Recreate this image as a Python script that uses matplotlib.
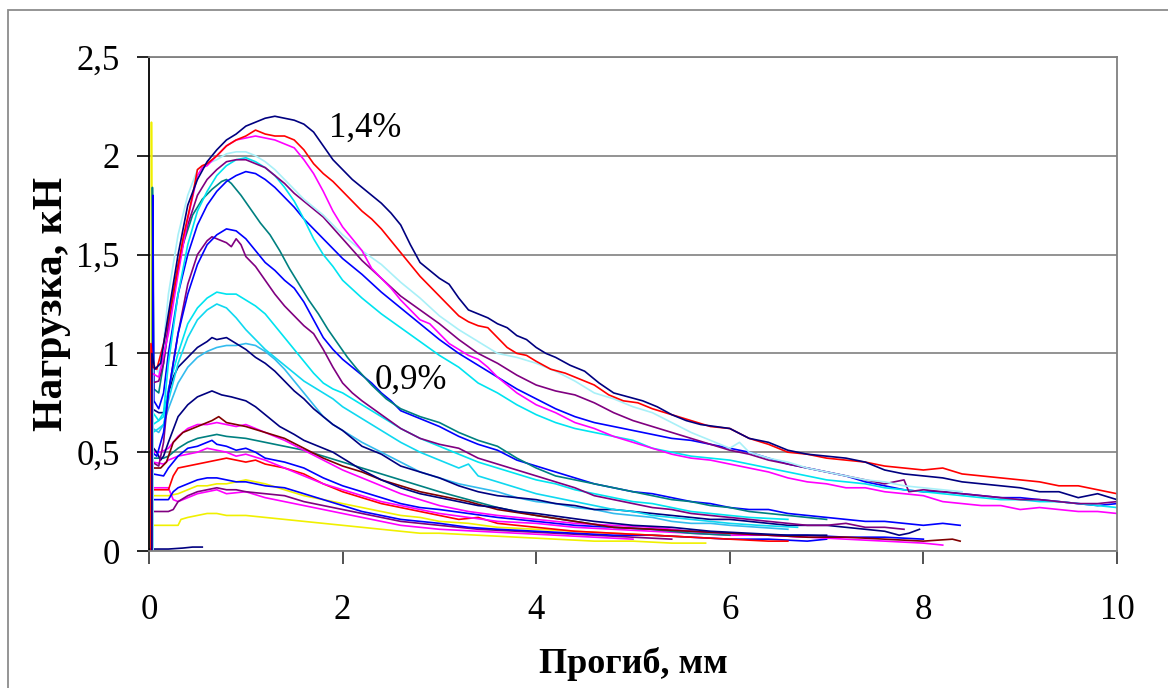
import numpy as np
import matplotlib
matplotlib.use("Agg")
import matplotlib.pyplot as plt
from matplotlib.patches import Rectangle

# load vs deflection curves, (deflection mm, load kN)
navy_14 = [(0.03, 0.0), (0.03, 1.0), (0.06, 0.92), (0.12, 0.95), (0.2, 1.2), (0.3, 1.5), (0.4, 1.75), (0.5, 1.88),
           (0.6, 1.97), (0.7, 2.03), (0.8, 2.08), (0.9, 2.11), (1.0, 2.15), (1.1, 2.17), (1.2, 2.19), (1.3, 2.20),
           (1.4, 2.19), (1.5, 2.18), (1.6, 2.16), (1.7, 2.12), (1.8, 2.05), (1.9, 1.98), (2.0, 1.93), (2.1, 1.88),
           (2.2, 1.84), (2.3, 1.80), (2.4, 1.76), (2.5, 1.71), (2.6, 1.65), (2.7, 1.55), (2.8, 1.46), (2.9, 1.42),
           (3.0, 1.38), (3.1, 1.35), (3.2, 1.28), (3.3, 1.22), (3.4, 1.20), (3.5, 1.18), (3.6, 1.15), (3.7, 1.13),
           (3.8, 1.09), (3.9, 1.07), (4.0, 1.03), (4.1, 1.00), (4.2, 0.98), (4.35, 0.94), (4.5, 0.91), (4.65, 0.85),
           (4.8, 0.80), (4.95, 0.78), (5.1, 0.76), (5.25, 0.73), (5.4, 0.69), (5.55, 0.66), (5.7, 0.64), (5.85, 0.63),
           (6.0, 0.62), (6.2, 0.57), (6.4, 0.55), (6.6, 0.51), (6.8, 0.49), (7.0, 0.48), (7.2, 0.47), (7.4, 0.45),
           (7.6, 0.41), (7.8, 0.39), (8.0, 0.38), (8.2, 0.37), (8.4, 0.35), (8.6, 0.34), (8.8, 0.33), (9.0, 0.32),
           (9.2, 0.30), (9.4, 0.30), (9.6, 0.27), (9.8, 0.29), (10.0, 0.26)]
red_top = [(0.02, 0.0), (0.02, 1.05), (0.04, 0.93), (0.08, 0.92), (0.15, 1.05), (0.25, 1.3), (0.35, 1.58),
           (0.45, 1.8), (0.5, 1.93), (0.55, 1.95), (0.6, 1.96), (0.7, 2.0), (0.8, 2.05), (0.9, 2.08), (1.0, 2.10),
           (1.1, 2.13), (1.2, 2.11), (1.3, 2.10), (1.4, 2.10), (1.5, 2.08), (1.6, 2.03), (1.7, 1.96), (1.8, 1.91),
           (1.9, 1.87), (2.0, 1.82), (2.1, 1.77), (2.2, 1.72), (2.3, 1.68), (2.4, 1.63), (2.5, 1.57), (2.6, 1.51),
           (2.7, 1.45), (2.8, 1.39), (2.9, 1.34), (3.0, 1.29), (3.1, 1.24), (3.2, 1.19), (3.3, 1.16), (3.4, 1.14),
           (3.5, 1.13), (3.6, 1.08), (3.7, 1.03), (3.8, 1.00), (3.9, 0.99), (4.0, 0.96), (4.15, 0.92), (4.3, 0.90),
           (4.45, 0.87), (4.6, 0.84), (4.75, 0.79), (4.9, 0.76), (5.05, 0.75), (5.2, 0.72), (5.4, 0.69),
           (5.6, 0.66), (5.8, 0.63), (6.0, 0.62), (6.2, 0.57), (6.4, 0.54), (6.6, 0.50), (6.8, 0.49), (7.0, 0.47),
           (7.2, 0.46), (7.4, 0.45), (7.6, 0.43), (7.8, 0.42), (8.0, 0.41), (8.2, 0.42), (8.4, 0.39), (8.6, 0.38),
           (8.8, 0.37), (9.0, 0.36), (9.2, 0.35), (9.4, 0.33), (9.6, 0.33), (9.8, 0.31), (10.0, 0.29)]
magenta_top = [(0.03, 0.0), (0.03, 0.9), (0.1, 0.88), (0.2, 1.1), (0.3, 1.4), (0.4, 1.68), (0.5, 1.9), (0.55, 1.94),
               (0.6, 1.95), (0.7, 2.0), (0.8, 2.05), (0.9, 2.08), (1.0, 2.09), (1.1, 2.10), (1.2, 2.09), (1.3, 2.08),
               (1.4, 2.06), (1.5, 2.04), (1.6, 1.98), (1.7, 1.91), (1.8, 1.82), (1.9, 1.72), (2.0, 1.64), (2.1, 1.58),
               (2.2, 1.52), (2.3, 1.43), (2.4, 1.38), (2.5, 1.33), (2.6, 1.27), (2.7, 1.22), (2.8, 1.17), (2.9, 1.15),
               (3.0, 1.10), (3.1, 1.05), (3.2, 1.02), (3.3, 0.99), (3.4, 0.97), (3.5, 0.93), (3.6, 0.88), (3.7, 0.84),
               (3.8, 0.80), (3.9, 0.77), (4.0, 0.74), (4.2, 0.70), (4.4, 0.65), (4.6, 0.62), (4.8, 0.58), (5.0, 0.55),
               (5.2, 0.52), (5.4, 0.49), (5.6, 0.47), (5.8, 0.46), (6.0, 0.44), (6.2, 0.42), (6.4, 0.40), (6.6, 0.37),
               (6.8, 0.35), (7.0, 0.34), (7.2, 0.32), (7.4, 0.32), (7.6, 0.30), (7.8, 0.29), (8.0, 0.28), (8.2, 0.25),
               (8.4, 0.24), (8.6, 0.23), (8.8, 0.23), (9.0, 0.21), (9.2, 0.22), (9.4, 0.21), (9.6, 0.20), (9.8, 0.20),
               (10.0, 0.19)]
pale_top = [(0.04, 0.0), (0.04, 0.95), (0.1, 0.9), (0.15, 1.05), (0.2, 1.3), (0.3, 1.6), (0.4, 1.8), (0.5, 1.93),
            (0.6, 1.96), (0.7, 1.98), (0.8, 2.01), (0.9, 2.02), (1.0, 2.02), (1.1, 2.0), (1.2, 1.97), (1.3, 1.93),
            (1.4, 1.88), (1.5, 1.83), (1.6, 1.78), (1.8, 1.70), (2.0, 1.60), (2.2, 1.52), (2.4, 1.45), (2.6, 1.36),
            (2.8, 1.28), (3.0, 1.19), (3.2, 1.12), (3.4, 1.06), (3.6, 1.00), (3.8, 0.98), (4.0, 0.95), (4.2, 0.91),
            (4.4, 0.86), (4.6, 0.80), (4.8, 0.77), (5.0, 0.73), (5.2, 0.70), (5.4, 0.65), (5.6, 0.60), (5.8, 0.56),
            (6.0, 0.52), (6.1, 0.55), (6.2, 0.50), (6.4, 0.47), (6.6, 0.45), (6.8, 0.42), (7.0, 0.40), (7.2, 0.38),
            (7.4, 0.36), (7.6, 0.35), (7.8, 0.33), (8.0, 0.32), (8.2, 0.31), (8.4, 0.30)]
purple_top = [(0.03, 0.0), (0.03, 0.85), (0.1, 0.86), (0.15, 0.95), (0.2, 1.15), (0.3, 1.45), (0.4, 1.65), (0.5, 1.8),
              (0.6, 1.88), (0.7, 1.93), (0.8, 1.97), (0.9, 1.98), (1.0, 1.98), (1.1, 1.96), (1.2, 1.94), (1.3, 1.90),
              (1.4, 1.86), (1.5, 1.81), (1.6, 1.77), (1.7, 1.73), (1.8, 1.69), (2.0, 1.58), (2.2, 1.47), (2.4, 1.38),
              (2.6, 1.29), (2.8, 1.22), (3.0, 1.15), (3.2, 1.07), (3.4, 1.00), (3.6, 0.95), (3.8, 0.89), (4.0, 0.84),
              (4.2, 0.81), (4.4, 0.79), (4.6, 0.75), (4.8, 0.70), (5.0, 0.66), (5.2, 0.63), (5.4, 0.60), (5.6, 0.57),
              (5.8, 0.54), (6.0, 0.51), (6.2, 0.49), (6.4, 0.46), (6.6, 0.44), (6.8, 0.42), (7.0, 0.40), (7.2, 0.38),
              (7.4, 0.36), (7.6, 0.34), (7.8, 0.36), (7.85, 0.30), (8.0, 0.31), (8.2, 0.30), (8.4, 0.29), (8.6, 0.28),
              (8.8, 0.27), (9.0, 0.26), (9.2, 0.26), (9.4, 0.25), (9.6, 0.24), (9.8, 0.24), (10.0, 0.25)]
cyan_top = [(0.04, 0.0), (0.04, 0.7), (0.1, 0.66), (0.15, 0.7), (0.2, 0.95), (0.3, 1.3), (0.4, 1.55), (0.5, 1.72),
            (0.6, 1.82), (0.7, 1.9), (0.8, 1.95), (0.9, 1.98), (1.0, 1.99), (1.1, 1.97), (1.2, 1.94), (1.3, 1.90),
            (1.4, 1.84), (1.5, 1.77), (1.6, 1.68), (1.7, 1.58), (1.8, 1.50), (1.9, 1.44), (2.0, 1.37), (2.2, 1.28),
            (2.4, 1.20), (2.6, 1.13), (2.8, 1.06), (3.0, 0.99), (3.2, 0.93), (3.4, 0.85), (3.6, 0.80), (3.8, 0.74),
            (4.0, 0.69), (4.2, 0.65), (4.4, 0.62), (4.6, 0.60), (4.8, 0.58), (5.0, 0.56), (5.2, 0.52), (5.4, 0.50),
            (5.6, 0.48), (5.8, 0.47), (6.0, 0.46), (6.2, 0.44), (6.4, 0.42), (6.6, 0.40), (6.8, 0.38), (7.0, 0.36),
            (7.2, 0.35), (7.4, 0.34), (7.6, 0.32), (7.8, 0.31), (8.0, 0.30), (8.2, 0.29), (8.4, 0.28), (8.6, 0.27),
            (8.8, 0.26), (9.0, 0.26), (9.2, 0.25), (9.4, 0.25), (9.6, 0.24), (9.8, 0.23), (10.0, 0.22)]
blue_top = [(0.04, 0.0), (0.04, 1.80), (0.05, 0.76), (0.1, 0.72), (0.15, 0.8), (0.2, 1.0), (0.3, 1.3), (0.4, 1.5),
            (0.5, 1.65), (0.6, 1.75), (0.7, 1.82), (0.8, 1.87), (0.9, 1.90), (1.0, 1.92), (1.1, 1.91), (1.2, 1.88),
            (1.3, 1.84), (1.4, 1.79), (1.5, 1.74), (1.6, 1.68), (1.7, 1.63), (1.8, 1.58), (1.9, 1.53), (2.0, 1.48),
            (2.2, 1.40), (2.4, 1.31), (2.6, 1.23), (2.8, 1.15), (3.0, 1.07), (3.2, 1.00), (3.4, 0.94), (3.6, 0.88),
            (3.8, 0.82), (4.0, 0.77), (4.2, 0.72), (4.4, 0.68), (4.6, 0.65), (4.8, 0.63), (5.0, 0.61), (5.2, 0.59),
            (5.4, 0.57), (5.6, 0.56), (5.8, 0.54), (6.0, 0.52), (6.2, 0.50), (6.4, 0.47), (6.6, 0.44), (6.8, 0.42),
            (7.0, 0.40), (7.2, 0.38), (7.4, 0.35), (7.6, 0.33), (7.8, 0.31), (8.0, 0.30), (8.2, 0.30), (8.4, 0.29),
            (8.6, 0.28), (8.8, 0.27), (9.0, 0.27), (9.2, 0.26), (9.4, 0.25), (9.6, 0.24), (9.8, 0.23), (10.0, 0.24)]
teal_top = [(0.035, 0.0), (0.035, 1.84), (0.05, 0.82), (0.1, 0.8), (0.15, 0.95), (0.25, 1.3), (0.35, 1.55),
            (0.45, 1.7), (0.55, 1.78), (0.65, 1.83), (0.75, 1.87), (0.8, 1.88), (0.85, 1.86), (0.95, 1.80),
            (1.05, 1.73), (1.15, 1.66), (1.25, 1.60), (1.35, 1.52), (1.45, 1.43), (1.55, 1.35), (1.65, 1.27),
            (1.75, 1.20), (1.85, 1.12), (1.95, 1.05), (2.05, 0.98), (2.15, 0.92), (2.3, 0.84), (2.45, 0.77),
            (2.6, 0.72), (2.8, 0.68), (3.0, 0.65), (3.2, 0.60), (3.4, 0.56), (3.6, 0.53), (3.8, 0.47), (4.0, 0.42),
            (4.2, 0.38), (4.4, 0.36), (4.6, 0.34), (4.8, 0.32), (5.0, 0.30), (5.2, 0.28), (5.4, 0.26), (5.6, 0.25),
            (5.8, 0.23), (6.0, 0.22), (6.2, 0.20), (6.4, 0.19), (6.6, 0.18), (6.8, 0.17), (7.0, 0.16)]
blue_mid = [(0.03, 0.0), (0.03, 0.5), (0.08, 0.48), (0.15, 0.6), (0.2, 0.8), (0.3, 1.1), (0.4, 1.3), (0.5, 1.45),
            (0.6, 1.55), (0.7, 1.6), (0.8, 1.63), (0.9, 1.62), (1.0, 1.58), (1.1, 1.52), (1.2, 1.46), (1.3, 1.42),
            (1.4, 1.37), (1.5, 1.33), (1.6, 1.26), (1.7, 1.17), (1.8, 1.08), (1.9, 1.02), (2.0, 0.97), (2.1, 0.93),
            (2.2, 0.89), (2.3, 0.85), (2.4, 0.80), (2.5, 0.76), (2.6, 0.71), (2.8, 0.67), (3.0, 0.63), (3.2, 0.58),
            (3.4, 0.54), (3.6, 0.51), (3.8, 0.46), (4.0, 0.43), (4.2, 0.40), (4.4, 0.37), (4.6, 0.34), (4.8, 0.32),
            (5.0, 0.30), (5.2, 0.29), (5.4, 0.27), (5.6, 0.25), (5.8, 0.24), (6.0, 0.22), (6.2, 0.21), (6.4, 0.21),
            (6.6, 0.19), (6.8, 0.18), (7.0, 0.17), (7.2, 0.16), (7.4, 0.15), (7.6, 0.15), (7.8, 0.14), (8.0, 0.13),
            (8.2, 0.14), (8.38, 0.13)]
purple_mid = [(0.03, 0.0), (0.03, 0.45), (0.1, 0.43), (0.15, 0.55), (0.2, 0.8), (0.3, 1.1), (0.4, 1.35), (0.5, 1.5),
              (0.6, 1.57), (0.65, 1.59), (0.7, 1.58), (0.8, 1.56), (0.85, 1.54), (0.9, 1.58), (0.95, 1.55),
              (1.0, 1.49), (1.1, 1.44), (1.2, 1.37), (1.3, 1.30), (1.4, 1.24), (1.5, 1.19), (1.6, 1.14), (1.7, 1.10),
              (1.8, 1.02), (1.9, 0.93), (2.0, 0.85), (2.1, 0.80), (2.2, 0.76), (2.4, 0.69), (2.6, 0.62), (2.8, 0.57),
              (3.0, 0.54), (3.2, 0.52), (3.4, 0.47), (3.6, 0.44), (3.8, 0.41), (4.0, 0.38), (4.2, 0.35), (4.4, 0.32),
              (4.6, 0.28), (4.8, 0.26), (5.0, 0.24), (5.2, 0.22), (5.4, 0.21), (5.6, 0.19), (5.8, 0.18), (6.0, 0.17),
              (6.2, 0.16), (6.4, 0.15), (6.6, 0.14), (6.8, 0.13), (7.0, 0.13), (7.2, 0.14), (7.4, 0.12), (7.6, 0.12),
              (7.8, 0.11)]
cyan_mid1 = [(0.04, 0.0), (0.04, 0.64), (0.1, 0.66), (0.15, 0.68), (0.2, 0.82), (0.3, 1.0), (0.4, 1.15), (0.5, 1.23),
             (0.6, 1.28), (0.7, 1.31), (0.8, 1.30), (0.9, 1.30), (1.0, 1.27), (1.1, 1.24), (1.2, 1.20), (1.3, 1.14),
             (1.4, 1.08), (1.5, 1.02), (1.6, 0.96), (1.7, 0.90), (1.8, 0.85), (1.9, 0.82), (2.0, 0.80), (2.2, 0.74),
             (2.4, 0.68), (2.6, 0.62), (2.8, 0.57), (3.0, 0.53), (3.2, 0.49), (3.4, 0.45), (3.6, 0.42), (3.8, 0.39),
             (4.0, 0.36), (4.2, 0.34), (4.4, 0.31), (4.6, 0.29), (4.8, 0.27), (5.0, 0.25), (5.2, 0.24), (5.4, 0.22),
             (5.6, 0.20), (5.8, 0.19), (6.0, 0.18), (6.2, 0.17), (6.6, 0.16)]
cyan_mid2 = [(0.04, 0.0), (0.04, 0.6), (0.1, 0.62), (0.15, 0.64), (0.2, 0.76), (0.3, 0.95), (0.4, 1.08), (0.5, 1.17),
             (0.6, 1.22), (0.7, 1.25), (0.8, 1.23), (0.9, 1.18), (1.0, 1.12), (1.1, 1.07), (1.2, 1.02), (1.3, 0.98),
             (1.4, 0.94), (1.5, 0.90), (1.6, 0.86), (1.7, 0.83), (1.8, 0.80), (1.9, 0.77), (2.0, 0.73), (2.2, 0.67),
             (2.4, 0.61), (2.6, 0.55), (2.8, 0.50), (3.0, 0.46), (3.2, 0.42), (3.3, 0.44), (3.4, 0.38), (3.6, 0.35),
             (3.8, 0.32), (4.0, 0.29), (4.2, 0.27), (4.4, 0.25), (4.6, 0.23), (4.8, 0.21), (5.0, 0.20), (5.2, 0.18),
             (5.4, 0.17), (5.6, 0.16), (5.8, 0.15), (6.0, 0.14), (6.3, 0.13), (6.7, 0.12)]
sky_mid = [(0.04, 0.0), (0.04, 0.62), (0.1, 0.6), (0.15, 0.64), (0.2, 0.72), (0.3, 0.85), (0.4, 0.93), (0.5, 0.98),
           (0.6, 1.01), (0.7, 1.03), (0.8, 1.04), (0.9, 1.04), (1.0, 1.05), (1.1, 1.04), (1.2, 1.01), (1.3, 0.97),
           (1.4, 0.92), (1.5, 0.86), (1.6, 0.80), (1.7, 0.74), (1.8, 0.68), (1.9, 0.64), (2.0, 0.61), (2.2, 0.55),
           (2.4, 0.50), (2.6, 0.45), (2.8, 0.40), (3.0, 0.37), (3.2, 0.34), (3.4, 0.32), (3.6, 0.30), (3.8, 0.27),
           (4.0, 0.25), (4.2, 0.24), (4.4, 0.22), (4.6, 0.21), (4.8, 0.19), (5.0, 0.18), (5.2, 0.17), (5.4, 0.15),
           (5.6, 0.14), (5.8, 0.14), (6.0, 0.13), (6.3, 0.12), (6.6, 0.11)]
navy_108 = [(0.03, 0.0), (0.03, 0.72), (0.1, 0.70), (0.15, 0.70), (0.2, 0.80), (0.25, 0.88), (0.3, 0.93), (0.4, 0.98),
            (0.5, 1.03), (0.6, 1.06), (0.65, 1.08), (0.7, 1.07), (0.8, 1.08), (0.9, 1.05), (1.0, 1.02), (1.1, 0.98),
            (1.2, 0.95), (1.3, 0.91), (1.4, 0.86), (1.5, 0.81), (1.6, 0.77), (1.7, 0.72), (1.8, 0.68), (1.9, 0.64),
            (2.0, 0.61), (2.1, 0.57), (2.2, 0.53), (2.4, 0.49), (2.6, 0.43), (2.8, 0.40), (3.0, 0.37), (3.2, 0.33),
            (3.4, 0.30), (3.6, 0.28), (3.8, 0.27), (4.0, 0.26), (4.2, 0.24), (4.4, 0.23), (4.6, 0.21), (4.8, 0.21),
            (5.0, 0.20), (5.2, 0.19), (5.4, 0.18), (5.6, 0.17), (5.8, 0.16), (6.0, 0.16), (6.2, 0.15), (6.4, 0.14),
            (6.6, 0.13), (6.8, 0.13), (7.0, 0.13), (7.2, 0.12), (7.4, 0.11), (7.6, 0.10), (7.75, 0.08), (7.85, 0.09),
            (7.96, 0.11)]
navy_080 = [(0.03, 0.0), (0.03, 0.53), (0.08, 0.50), (0.12, 0.46), (0.15, 0.48), (0.2, 0.55), (0.3, 0.68),
            (0.4, 0.74), (0.5, 0.78), (0.6, 0.80), (0.65, 0.81), (0.75, 0.79), (0.85, 0.78), (1.0, 0.76), (1.1, 0.73),
            (1.2, 0.69), (1.35, 0.63), (1.5, 0.59), (1.6, 0.56), (1.75, 0.53), (1.9, 0.50), (2.0, 0.47), (2.2, 0.41),
            (2.4, 0.36), (2.6, 0.32), (2.8, 0.29), (3.0, 0.27), (3.2, 0.25), (3.4, 0.23), (3.6, 0.22), (3.8, 0.20),
            (4.0, 0.19), (4.3, 0.17), (4.6, 0.15), (5.0, 0.13), (5.4, 0.12), (5.8, 0.10), (6.2, 0.09), (6.6, 0.08),
            (7.0, 0.08)]
maroon_low = [(0.04, 0.0), (0.04, 0.42), (0.12, 0.42), (0.18, 0.45), (0.25, 0.55), (0.35, 0.60), (0.45, 0.62),
              (0.55, 0.64), (0.65, 0.66), (0.72, 0.68), (0.8, 0.65), (0.9, 0.64), (1.0, 0.63), (1.2, 0.60), (1.4, 0.57),
              (1.6, 0.52), (1.8, 0.47), (2.0, 0.43), (2.2, 0.40), (2.4, 0.36), (2.6, 0.33), (2.8, 0.30), (3.0, 0.28),
              (3.3, 0.25), (3.6, 0.21), (4.0, 0.18), (4.4, 0.15), (4.8, 0.12), (5.2, 0.11), (5.6, 0.10), (6.0, 0.09),
              (6.4, 0.08), (6.8, 0.07), (7.2, 0.07), (7.6, 0.06), (8.0, 0.05), (8.3, 0.06), (8.38, 0.05)]
magenta_low1 = [(0.04, 0.0), (0.04, 0.5), (0.12, 0.5), (0.2, 0.52), (0.3, 0.58), (0.4, 0.62), (0.5, 0.64), (0.6, 0.64),
                (0.7, 0.65), (0.8, 0.64), (0.9, 0.63), (1.0, 0.64), (1.1, 0.62), (1.2, 0.60), (1.4, 0.56), (1.6, 0.51),
                (1.8, 0.46), (2.0, 0.41), (2.2, 0.37), (2.4, 0.33), (2.6, 0.29), (2.8, 0.26), (3.0, 0.23), (3.3, 0.20),
                (3.6, 0.18), (4.0, 0.16), (4.4, 0.14), (4.8, 0.13), (5.2, 0.12), (5.6, 0.10), (6.0, 0.09), (6.4, 0.08),
                (6.8, 0.07), (7.2, 0.06), (7.6, 0.05), (8.0, 0.04), (8.2, 0.03)]
teal_low = [(0.04, 0.0), (0.04, 0.47), (0.15, 0.47), (0.2, 0.48), (0.3, 0.52), (0.4, 0.55), (0.5, 0.57), (0.6, 0.58),
            (0.7, 0.59), (0.8, 0.58), (1.0, 0.57), (1.2, 0.55), (1.4, 0.53), (1.6, 0.51), (1.8, 0.48), (2.0, 0.45),
            (2.2, 0.42), (2.4, 0.39), (2.6, 0.36), (2.8, 0.33), (3.0, 0.30), (3.3, 0.26), (3.6, 0.22), (4.0, 0.18),
            (4.4, 0.15), (4.8, 0.12), (5.2, 0.11), (5.6, 0.09), (6.0, 0.08)]
blue_low1 = [(0.04, 0.0), (0.04, 0.39), (0.15, 0.38), (0.2, 0.42), (0.3, 0.48), (0.4, 0.52), (0.5, 0.53), (0.6, 0.55),
             (0.65, 0.56), (0.7, 0.54), (0.8, 0.53), (0.9, 0.51), (1.0, 0.52), (1.1, 0.50), (1.2, 0.47), (1.4, 0.45),
             (1.6, 0.42), (1.8, 0.37), (2.0, 0.33), (2.2, 0.30), (2.4, 0.27), (2.6, 0.24), (2.8, 0.22), (3.0, 0.21),
             (3.3, 0.19), (3.6, 0.17), (4.0, 0.15), (4.4, 0.13), (4.8, 0.12), (5.2, 0.11), (5.6, 0.10), (6.0, 0.09),
             (6.4, 0.08), (6.8, 0.08), (7.2, 0.07), (7.6, 0.07), (8.0, 0.06)]
magenta_low2 = [(0.04, 0.0), (0.04, 0.45), (0.15, 0.44), (0.2, 0.46), (0.3, 0.48), (0.4, 0.49), (0.5, 0.50),
                (0.6, 0.52), (0.7, 0.51), (0.8, 0.50), (0.9, 0.48), (1.0, 0.49), (1.2, 0.46), (1.4, 0.42), (1.6, 0.38),
                (1.8, 0.34), (2.0, 0.31), (2.2, 0.28), (2.4, 0.25), (2.6, 0.23), (2.8, 0.21), (3.0, 0.19), (3.3, 0.17),
                (3.6, 0.15), (4.0, 0.14), (4.4, 0.12), (4.8, 0.11), (5.2, 0.10), (5.6, 0.09), (6.0, 0.08), (6.4, 0.08),
                (6.8, 0.07)]
red_low = [(0.04, 0.0), (0.04, 0.31), (0.2, 0.31), (0.25, 0.38), (0.3, 0.42), (0.4, 0.43), (0.5, 0.44), (0.6, 0.45),
           (0.7, 0.46), (0.8, 0.47), (0.9, 0.46), (1.0, 0.45), (1.1, 0.46), (1.2, 0.44), (1.4, 0.42), (1.6, 0.39),
           (1.8, 0.34), (2.0, 0.30), (2.2, 0.27), (2.4, 0.24), (2.6, 0.22), (2.8, 0.20), (3.0, 0.18), (3.2, 0.16),
           (3.4, 0.17), (3.6, 0.14), (4.0, 0.12), (4.4, 0.10), (4.8, 0.09), (5.2, 0.08), (5.6, 0.07), (6.0, 0.06),
           (6.4, 0.05), (6.6, 0.05)]
blue_low2 = [(0.04, 0.0), (0.04, 0.26), (0.2, 0.26), (0.25, 0.30), (0.3, 0.32), (0.4, 0.34), (0.5, 0.36), (0.6, 0.37),
             (0.7, 0.37), (0.8, 0.36), (0.9, 0.35), (1.0, 0.35), (1.1, 0.34), (1.2, 0.33), (1.4, 0.32), (1.6, 0.29),
             (1.8, 0.26), (2.0, 0.23), (2.2, 0.20), (2.4, 0.18), (2.6, 0.16), (2.8, 0.15), (3.0, 0.14), (3.3, 0.12),
             (3.6, 0.11), (4.0, 0.10), (4.4, 0.09), (4.8, 0.08), (5.2, 0.08), (5.6, 0.07), (6.0, 0.06), (6.4, 0.06),
             (6.8, 0.05), (7.0, 0.06)]
yellow_low1 = [(0.025, 0.0), (0.025, 2.17), (0.035, 0.28), (0.2, 0.28), (0.3, 0.29), (0.4, 0.31), (0.5, 0.33),
               (0.6, 0.33), (0.7, 0.34), (0.8, 0.34), (0.9, 0.35), (1.0, 0.36), (1.1, 0.35), (1.2, 0.34), (1.4, 0.31),
               (1.6, 0.28), (1.8, 0.26), (2.0, 0.24), (2.2, 0.22), (2.4, 0.20), (2.6, 0.18), (2.8, 0.17), (3.0, 0.15),
               (3.3, 0.14), (3.6, 0.12), (4.0, 0.11), (4.4, 0.10), (4.8, 0.09), (5.2, 0.08), (5.6, 0.07)]
purple_low = [(0.04, 0.0), (0.04, 0.2), (0.2, 0.2), (0.25, 0.21), (0.3, 0.25), (0.4, 0.28), (0.5, 0.30), (0.6, 0.31),
              (0.7, 0.32), (0.8, 0.31), (0.9, 0.31), (1.0, 0.30), (1.2, 0.29), (1.4, 0.28), (1.6, 0.25), (1.8, 0.23),
              (2.0, 0.21), (2.2, 0.19), (2.4, 0.17), (2.6, 0.15), (2.8, 0.14), (3.0, 0.13), (3.4, 0.11), (3.8, 0.10),
              (4.2, 0.09), (4.6, 0.08), (5.0, 0.07), (5.4, 0.06)]
magenta_low3 = [(0.04, 0.0), (0.04, 0.32), (0.2, 0.32), (0.25, 0.26), (0.3, 0.25), (0.4, 0.27), (0.5, 0.29),
                (0.6, 0.30), (0.7, 0.31), (0.8, 0.29), (1.0, 0.30), (1.2, 0.27), (1.4, 0.25), (1.6, 0.23), (1.8, 0.21),
                (2.0, 0.19), (2.2, 0.17), (2.4, 0.15), (2.6, 0.13), (2.8, 0.12), (3.0, 0.11), (3.4, 0.10), (3.8, 0.09),
                (4.2, 0.08), (4.6, 0.07), (5.0, 0.06)]
yellow_low2 = [(0.04, 0.0), (0.04, 0.13), (0.2, 0.13), (0.3, 0.13), (0.33, 0.16), (0.4, 0.17), (0.5, 0.18),
               (0.6, 0.19), (0.7, 0.19), (0.8, 0.18), (1.0, 0.18), (1.2, 0.17), (1.4, 0.16), (1.6, 0.15), (1.8, 0.14),
               (2.0, 0.13), (2.2, 0.12), (2.4, 0.11), (2.6, 0.10), (2.8, 0.09), (3.0, 0.09), (3.4, 0.08), (3.8, 0.07),
               (4.2, 0.06), (4.6, 0.05), (5.0, 0.05), (5.4, 0.04), (5.75, 0.04)]
navy_zero = [(0.0, 0.01), (0.2, 0.01), (0.35, 0.015), (0.45, 0.02), (0.55, 0.02)]

x_ticks = [0, 2, 4, 6, 8, 10]
x_labels = ["0", "2", "4", "6", "8", "10"]
y_ticks = [0, 0.5, 1, 1.5, 2, 2.5]
y_labels = ["0", "0,5", "1", "1,5", "2", "2,5"]

# draw order: low curves first, the high ones on top
series = [
    (yellow_low1, "#F0F000"), (yellow_low2, "#F0F000"), (magenta_low3, "#FF00FF"), (purple_low, "#800080"),
    (blue_low2, "#0000FF"), (red_low, "#FF0000"), (magenta_low2, "#FF00FF"), (blue_low1, "#0000FF"),
    (teal_low, "#008080"), (magenta_low1, "#FF00FF"), (maroon_low, "#800000"), (navy_zero, "#000080"),
    (navy_080, "#000080"), (sky_mid, "#33BBEE"), (navy_108, "#000080"), (cyan_mid2, "#10D8F0"),
    (cyan_mid1, "#00E4F0"), (purple_mid, "#800080"), (blue_mid, "#0000FF"), (teal_top, "#008080"),
    (blue_top, "#0000FF"), (cyan_top, "#00E4F0"), (purple_top, "#800080"), (pale_top, "#A8F0F8"),
    (magenta_top, "#FF00FF"), (red_top, "#FF0000"), (navy_14, "#000080"),
]

serif = ["Liberation Serif", "DejaVu Serif"]

fig = plt.figure(figsize=(11.68, 6.88), dpi=100)
ax = fig.add_axes([0.1276, 0.1991, 0.8287, 0.7181])

for pts, col in series:
    arr = np.array(pts)
    ax.plot(arr[:, 0], arr[:, 1], color=col, lw=1.2, solid_joinstyle="round")

ax.set_xlim(0, 10)
ax.set_ylim(0, 2.5)
ax.set_xticks(x_ticks)
ax.set_xticklabels(x_labels, family=serif, fontsize=25)
ax.set_yticks(y_ticks)
ax.set_yticklabels(y_labels, family=serif, fontsize=25)
ax.tick_params(axis="x", direction="out", length=9, width=1.2, pad=22, colors="#333333", labelcolor="black")
ax.tick_params(axis="y", direction="out", length=9, width=1.2, pad=12, colors="black")
ax.yaxis.grid(True, color="#808080", lw=1.2)
ax.set_axisbelow(True)

ax.spines["left"].set_color("black")
ax.spines["left"].set_linewidth(1.3)
for side in ["bottom", "right", "top"]:
    ax.spines[side].set_color("#808080")
    ax.spines[side].set_linewidth(1.3)

ax.set_xlabel("Прогиб, мм", family=serif, fontsize=26, fontweight="bold", labelpad=14)
ax.set_ylabel("Нагрузка, кН", family=serif, fontsize=30, fontweight="bold", labelpad=4)

ax.text(2.23, 2.14, "1,4%", family=serif, fontsize=25, ha="center", va="center")
ax.text(2.71, 0.865, "0,9%", family=serif, fontsize=25, ha="center", va="center")

# outer chart frame
fig.patches.append(Rectangle((0.0068, -0.02), 1.05, 1.0055, transform=fig.transFigure,
                             fill=False, edgecolor="#8c8c8c", lw=1.3))

fig.savefig("out.png", dpi=100)
